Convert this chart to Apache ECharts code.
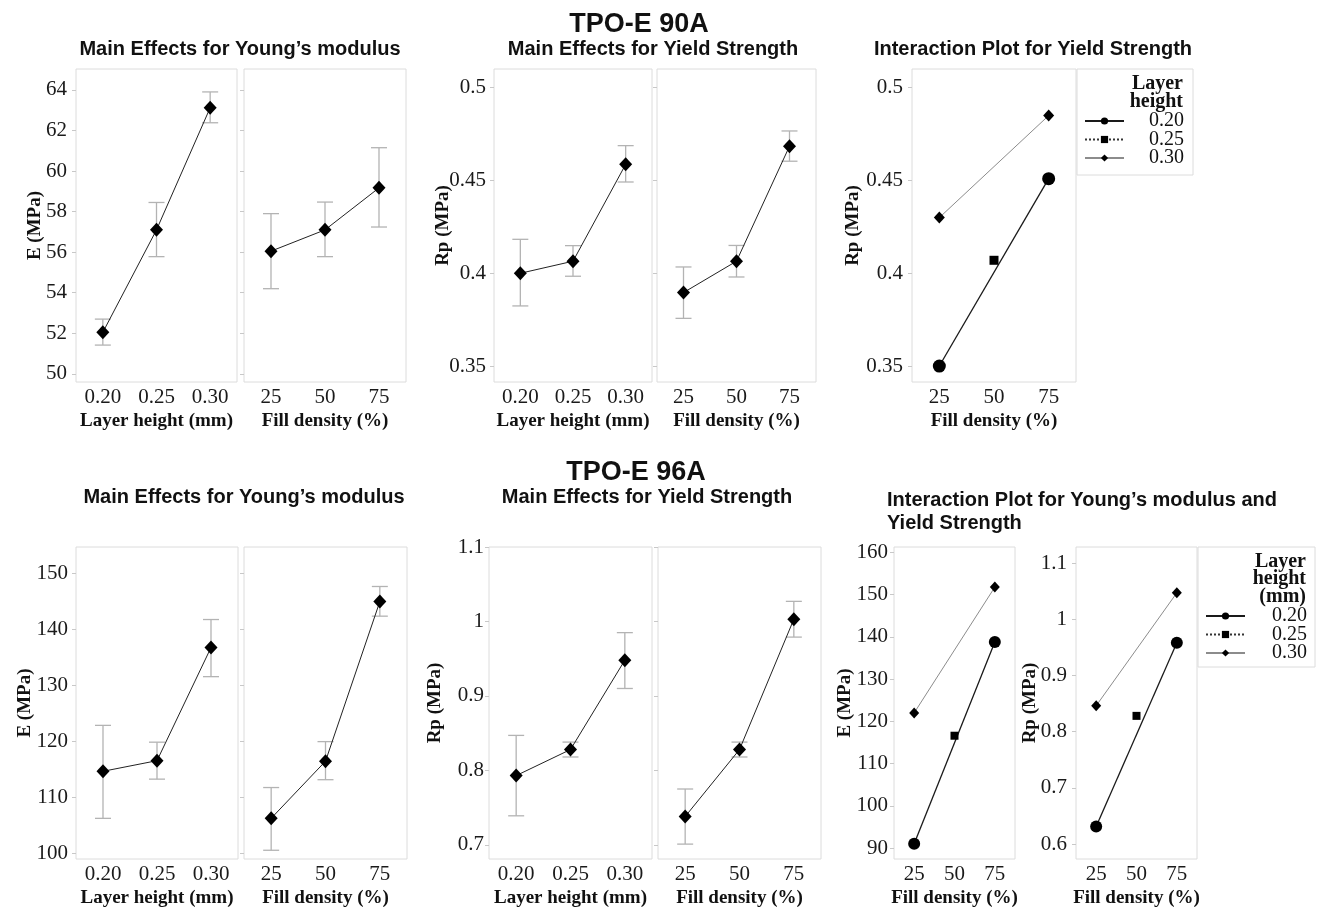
<!DOCTYPE html>
<html><head><meta charset="utf-8">
<script src="https://cdn.jsdelivr.net/npm/echarts@6/dist/echarts.min.js"></script>
<style>html,body{margin:0;padding:0;background:#fff}#c{width:1318px;height:911px}</style>
</head><body><div id="c"></div>
<script>
// ---------- categories ----------
const layerCats = ['0.20', '0.25', '0.30'];
const fillCats = ['25', '50', '75'];
const legendNames = ['0.20', '0.25', '0.30'];

// ---------- TPO-E 90A ----------
const e90Layer   = [52.05, 57.10, 63.12];
const e90LayerLo = [51.42, 55.78, 62.38];
const e90LayerHi = [52.70, 58.45, 63.90];
const e90Fill    = [56.05, 57.10, 59.17];
const e90FillLo  = [54.20, 55.78, 57.24];
const e90FillHi  = [57.90, 58.47, 61.15];

const rp90Layer   = [0.4000, 0.4065, 0.4587];
const rp90LayerLo = [0.3824, 0.3984, 0.4492];
const rp90LayerHi = [0.4183, 0.4149, 0.4688];
const rp90Fill    = [0.3896, 0.4065, 0.4685];
const rp90FillLo  = [0.3757, 0.3980, 0.4604];
const rp90FillHi  = [0.4034, 0.4150, 0.4767];

const rp90Int020 = [0.350, null, 0.451];
const rp90Int025 = [null, 0.407, null];
const rp90Int030 = [0.430, null, 0.485];

// ---------- TPO-E 96A ----------
const e96Layer   = [114.7, 116.6, 136.8];
const e96LayerLo = [106.3, 113.3, 131.6];
const e96LayerHi = [122.9, 119.9, 141.8];
const e96Fill    = [106.3, 116.5, 145.0];
const e96FillLo  = [100.6, 113.2, 142.4];
const e96FillHi  = [111.8, 120.0, 147.7];

const rp96Layer   = [0.793, 0.828, 0.948];
const rp96LayerLo = [0.739, 0.818, 0.910];
const rp96LayerHi = [0.847, 0.838, 0.985];
const rp96Fill    = [0.738, 0.828, 1.003];
const rp96FillLo  = [0.701, 0.818, 0.979];
const rp96FillHi  = [0.775, 0.838, 1.027];

const e96Int020 = [91.0, null, 138.8];
const e96Int025 = [null, 116.6, null];
const e96Int030 = [122.0, null, 151.8];
const rp96Int020 = [0.631, null, 0.958];
const rp96Int025 = [null, 0.828, null];
const rp96Int030 = [0.846, null, 1.047];

// ---------- tick labels ----------
const ticksE90 = [50, 52, 54, 56, 58, 60, 62, 64];
const ticksRp90 = [0.35, 0.4, 0.45, 0.5];
const ticksE96 = [100, 110, 120, 130, 140, 150];
const ticksRp96 = [0.7, 0.8, 0.9, 1, 1.1];
const ticksE96Int = [90, 100, 110, 120, 130, 140, 150, 160];
const ticksRp96Int = [0.6, 0.7, 0.8, 0.9, 1, 1.1];

// ---------- styling ----------
const SANS = '"Liberation Sans", Arial, sans-serif';
const SERIF = '"Liberation Serif", "Times New Roman", serif';
const INK = '#111';

const grids = [
  {left: 76,  top: 69,  width: 161, height: 313},
  {left: 244, top: 69,  width: 162, height: 313},
  {left: 494, top: 69,  width: 158, height: 313},
  {left: 657, top: 69,  width: 159, height: 313},
  {left: 912, top: 69,  width: 164, height: 313},
  {left: 76,  top: 547, width: 162, height: 312},
  {left: 244, top: 547, width: 163, height: 312},
  {left: 489, top: 547, width: 163, height: 312},
  {left: 658, top: 547, width: 163, height: 312},
  {left: 894, top: 547, width: 121, height: 312},
  {left: 1076, top: 547, width: 121, height: 312}
].map(g => Object.assign({show: true, borderColor: '#dcdcdc', borderWidth: 1, backgroundColor: 'transparent'}, g));

function xAxis(gi, data, name) {
  return {
    type: 'category', gridIndex: gi, data: data, boundaryGap: true,
    axisLine: {show: false}, axisTick: {show: false}, splitLine: {show: false},
    axisLabel: {margin: 5, fontFamily: SERIF, fontSize: 21, color: '#1a1a1a'},
    name: name, nameLocation: 'middle', nameGap: 30, nameMoveOverlap: false,
    nameTextStyle: {fontFamily: SERIF, fontWeight: 'bold', fontSize: 19, color: INK}
  };
}
function yAxis(gi, min, max, ticks, name, nameGap, showLabels, margin) {
  return {
    type: 'value', gridIndex: gi, min: min, max: max,
    name: name, nameLocation: 'middle', nameGap: nameGap, nameMoveOverlap: false,
    nameTextStyle: {fontFamily: SERIF, fontWeight: 'bold', fontSize: 19, color: INK},
    axisLine: {show: false}, splitLine: {show: false},
    axisTick: {show: true, length: 4, lineStyle: {color: '#c8c8c8'}, customValues: ticks},
    axisLabel: {show: showLabels, customValues: ticks, margin: margin, fontFamily: SERIF, fontSize: 21, color: '#1a1a1a'}
  };
}

const xAxes = [
  xAxis(0, layerCats, 'Layer height (mm)'),
  xAxis(1, fillCats, 'Fill density (%)'),
  xAxis(2, layerCats, 'Layer height (mm)'),
  xAxis(3, fillCats, 'Fill density (%)'),
  xAxis(4, fillCats, 'Fill density (%)'),
  xAxis(5, layerCats, 'Layer height (mm)'),
  xAxis(6, fillCats, 'Fill density (%)'),
  xAxis(7, layerCats, 'Layer height (mm)'),
  xAxis(8, fillCats, 'Fill density (%)'),
  xAxis(9, fillCats, 'Fill density (%)'),
  xAxis(10, fillCats, 'Fill density (%)')
];
const yAxes = [
  yAxis(0, 49.6, 65.03, ticksE90, 'E (MPa)', 31, true, 9),
  yAxis(1, 49.6, 65.03, ticksE90, '', 30, false, 9),
  yAxis(2, 0.3414, 0.5101, ticksRp90, 'Rp (MPa)', 41, true, 8),
  yAxis(3, 0.3414, 0.5101, ticksRp90, '', 30, false, 8),
  yAxis(4, 0.3414, 0.5101, ticksRp90, 'Rp (MPa)', 49, true, 9),
  yAxis(5, 99.04, 154.75, ticksE96, 'E (MPa)', 41, true, 8),
  yAxis(6, 99.04, 154.75, ticksE96, '', 30, false, 8),
  yAxis(7, 0.681, 1.1, ticksRp96, 'Rp (MPa)', 44, true, 5),
  yAxis(8, 0.681, 1.1, ticksRp96, '', 30, false, 5),
  yAxis(9, 87.4, 161.3, ticksE96Int, 'E (MPa)', 39, true, 6),
  yAxis(10, 0.5733, 1.1285, ticksRp96Int, 'Rp (MPa)', 36, true, 9)
];

function errRender(params, api) {
  const x = api.value(0);
  const lo = api.coord([x, api.value(1)]);
  const hi = api.coord([x, api.value(2)]);
  const w = 8;
  const st = {stroke: '#b3b3b3', lineWidth: 1.3};
  return {type: 'group', children: [
    {type: 'line', shape: {x1: lo[0], y1: lo[1], x2: hi[0], y2: hi[1]}, style: st},
    {type: 'line', shape: {x1: lo[0] - w, y1: lo[1], x2: lo[0] + w, y2: lo[1]}, style: st},
    {type: 'line', shape: {x1: hi[0] - w, y1: hi[1], x2: hi[0] + w, y2: hi[1]}, style: st}
  ]};
}
function mainEffect(gi, vals, lo, hi) {
  return [
    {type: 'custom', xAxisIndex: gi, yAxisIndex: gi, z: 1, silent: true,
     renderItem: errRender, encode: {x: 0, y: [1, 2]},
     data: vals.map((v, i) => [i, lo[i], hi[i]])},
    {type: 'line', xAxisIndex: gi, yAxisIndex: gi, z: 3, silent: true, data: vals,
     symbol: 'diamond', symbolSize: [13, 14],
     itemStyle: {color: '#000'}, lineStyle: {color: '#222', width: 1}}
  ];
}
function interaction(gi, d020, d025, d030, big) {
  return [
    {name: '0.20', type: 'line', xAxisIndex: gi, yAxisIndex: gi, z: 3, data: d020, connectNulls: true,
     symbol: 'circle', symbolSize: big ? 13 : 12, itemStyle: {color: '#000'},
     lineStyle: {color: '#1a1a1a', width: 1.3}},
    {name: '0.25', type: 'line', xAxisIndex: gi, yAxisIndex: gi, z: 3, data: d025, connectNulls: true,
     symbol: 'rect', symbolSize: big ? 9 : 8, itemStyle: {color: '#000'},
     lineStyle: {color: '#333', width: 1, type: 'dotted'}},
    {name: '0.30', type: 'line', xAxisIndex: gi, yAxisIndex: gi, z: 3, data: d030, connectNulls: true,
     symbol: 'diamond', symbolSize: big ? [11, 12] : [10, 11], itemStyle: {color: '#000'},
     lineStyle: {color: '#8c8c8c', width: 1}}
  ];
}

const series = [].concat(
  mainEffect(0, e90Layer, e90LayerLo, e90LayerHi),
  mainEffect(1, e90Fill, e90FillLo, e90FillHi),
  mainEffect(2, rp90Layer, rp90LayerLo, rp90LayerHi),
  mainEffect(3, rp90Fill, rp90FillLo, rp90FillHi),
  interaction(4, rp90Int020, rp90Int025, rp90Int030, true),
  mainEffect(5, e96Layer, e96LayerLo, e96LayerHi),
  mainEffect(6, e96Fill, e96FillLo, e96FillHi),
  mainEffect(7, rp96Layer, rp96LayerLo, rp96LayerHi),
  mainEffect(8, rp96Fill, rp96FillLo, rp96FillHi),
  interaction(9, e96Int020, e96Int025, e96Int030, false),
  interaction(10, rp96Int020, rp96Int025, rp96Int030, false)
);

function legendAt(left, top, textW) {
  return {
    data: legendNames, left: left, top: top, orient: 'vertical', padding: 0,
    itemWidth: 39, itemHeight: 9, itemGap: -1.5, selectedMode: false,
    formatter: n => '{a|' + n + '}',
    textStyle: {rich: {a: {width: textW, height: 18, lineHeight: 18, align: 'right', fontFamily: SERIF, fontSize: 20, color: INK}}}
  };
}

function txt(x, y, text, size, align, family, weight) {
  const font = (weight || 'bold') + ' ' + size + 'px ' + (family || SANS);
  return {type: 'text', x: x, y: y, silent: true,
    style: {text: text, font: font, fill: INK, align: align || 'center', verticalAlign: 'middle',
            textAlign: align || 'center', textVerticalAlign: 'middle'}};
}

const graphics = [
  txt(639, 25, 'TPO-E 90A', 27),
  txt(240, 49, 'Main Effects for Young\u2019s modulus', 20),
  txt(653, 49, 'Main Effects for Yield Strength', 20),
  txt(1033, 49, 'Interaction Plot for Yield Strength', 20),
  txt(636, 473, 'TPO-E 96A', 27),
  txt(244, 497, 'Main Effects for Young\u2019s modulus', 20),
  txt(647, 497, 'Main Effects for Yield Strength', 20),
  txt(887, 500, 'Interaction Plot for Young\u2019s modulus and', 20, 'left'),
  txt(887, 523, 'Yield Strength', 20, 'left'),
  // legend frames & titles
  {type: 'rect', silent: true, shape: {x: 1077, y: 69, width: 116, height: 106},
   style: {fill: 'none', stroke: '#dcdcdc', lineWidth: 1}},
  txt(1183, 84, 'Layer', 20, 'right', SERIF),
  txt(1183, 101.7, 'height', 20, 'right', SERIF),
  {type: 'rect', silent: true, shape: {x: 1198, y: 547, width: 117, height: 120},
   style: {fill: 'none', stroke: '#dcdcdc', lineWidth: 1}},
  txt(1306, 561.7, 'Layer', 20, 'right', SERIF),
  txt(1306, 579.3, 'height', 20, 'right', SERIF),
  txt(1306, 596.7, '(mm)', 20, 'right', SERIF)
];

const chart = echarts.init(document.getElementById('c'));
chart.setOption({
  backgroundColor: '#fff',
  animation: false,
  grid: grids,
  xAxis: xAxes,
  yAxis: yAxes,
  legend: [legendAt(1084, 111, 55), legendAt(1205, 606, 57)],
  graphic: {elements: graphics},
  series: series
});
</script>
</body></html>
